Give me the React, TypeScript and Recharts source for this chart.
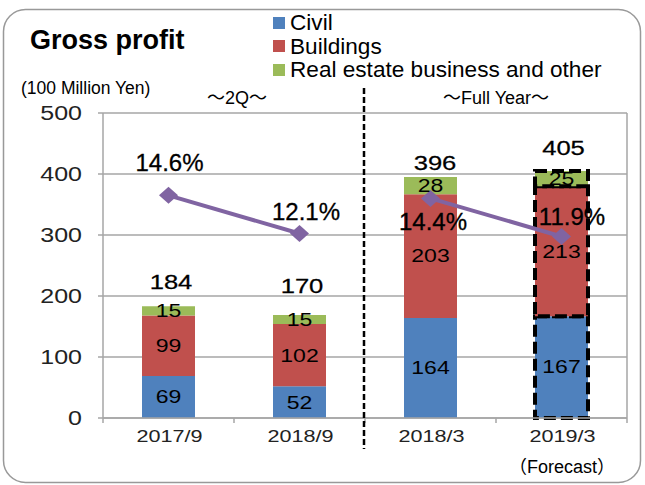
import React from 'react';
import { ComposedChart, Bar, Line, XAxis, YAxis, CartesianGrid, Legend, LabelList, Cell } from 'recharts';

const categories = ['2017/9', '2018/9', '2018/3', '2019/3'];
const civil = [69, 52, 164, 167];
const buildings = [99, 102, 203, 213];
const realEstate = [15, 15, 28, 25];
const totals = [184, 170, 396, 405];
const ratio2Q: (number | null)[] = [14.6, 12.1, null, null];
const ratioFY: (number | null)[] = [null, null, 14.4, 11.9];
const yTicks = [0, 100, 200, 300, 400, 500];
const seriesNames = ['Civil', 'Buildings', 'Real estate business and other'];

const data = categories.map((cat, i) => ({
  cat,
  civil: civil[i],
  buildings: buildings[i],
  realEstate: realEstate[i],
  total: totals[i],
  ratio2Q: ratio2Q[i],
  ratioFY: ratioFY[i],
}));

const FONT = '"Liberation Sans", Arial, "Noto Sans CJK JP", sans-serif';
const BLUE = '#4F81BD';
const RED = '#C0504D';
const GREEN = '#9BBB59';
const PURPLE = '#8064A2';
const GRID = '#A6A6A6';
const FORECAST_INDEX = 3;

// label nudges relative to library-computed anchor points [dx, dy]
const PCT_NUDGE = [[1, -33], [6.5, -22], [2.5, 23], [10.5, -20]];
const TOTAL_NUDGE = [[2.5, -17.5], [2.5, -21.5], [4.5, -7], [2, -15.5]];

const Wide = ({ x, y, text, size, sx = 1.27, anchor = 'middle', fill = '#000', heavy = 0 }: any) => (
  <text
    transform={`translate(${x},${y}) scale(${sx},1)`}
    textAnchor={anchor}
    fontSize={size}
    fontFamily={FONT}
    fill={fill}
    stroke={heavy ? fill : undefined}
    strokeWidth={heavy || undefined}
  >
    {text}
  </text>
);

const getBox = (p: any) => {
  const vb = p.viewBox || {};
  return {
    x: p.x ?? vb.x,
    y: p.y ?? vb.y,
    width: p.width ?? vb.width ?? 0,
    height: p.height ?? vb.height ?? 0,
  };
};

const SegLabel = (p: any) => {
  if (p.value == null) return null;
  const { x, y, width, height } = getBox(p);
  return <Wide x={x + width / 2} y={y + height / 2 + 6.4} size={18} sx={1.28} text={String(p.value)} />;
};

const TotalLabel = (p: any) => {
  if (p.value == null) return null;
  const { x, y, width } = getBox(p);
  const n = TOTAL_NUDGE[p.index] || [0, -15];
  return <Wide x={x + width / 2 + n[0]} y={y + n[1]} size={20} sx={1.28} heavy={0.25} text={String(p.value)} />;
};

const PctLabel = (p: any) => {
  if (p.value == null) return null;
  const { x, y } = getBox(p);
  if (x == null || y == null) return null;
  const n = PCT_NUDGE[p.index] || [0, -20];
  return (
    <text
      x={x + n[0]}
      y={y + n[1] + 8.6}
      textAnchor="middle"
      fontSize={24}
      fontFamily={FONT}
      fill="#000"
      stroke="#000"
      strokeWidth={0.3}
    >
      {`${p.value}%`}
    </text>
  );
};

const Diamond = (p: any) => {
  const { cx, cy, key } = p;
  if (cx == null || cy == null || p.value == null || (Array.isArray(p.value) && p.value[1] == null)) return <g key={key} />;
  return (
    <polygon
      key={key}
      points={`${cx},${cy - 8.5} ${cx + 9.5},${cy} ${cx},${cy + 8.5} ${cx - 9.5},${cy}`}
      fill={PURPLE}
    />
  );
};

const YTick = (p: any) => (
  <Wide x={p.x - 14} y={p.y + 7.2} size={20} sx={1.25} anchor="end" fill="#222" text={String(p.payload.value)} />
);

const XTick = (p: any) => {
  const { x, y, payload, index } = p;
  return (
    <g>
      <Wide x={x + 1} y={y + 17} size={17} sx={1.27} fill="#222" text={payload.value} />
      <line x1={x - 65.5} x2={x - 65.5} y1={y - 7} y2={y - 2} stroke={GRID} strokeWidth={1.5} />
      {index === categories.length - 1 && (
        <line x1={x + 65.5} x2={x + 65.5} y1={y - 7} y2={y - 2} stroke={GRID} strokeWidth={1.5} />
      )}
    </g>
  );
};

const LegendContent = (props: any) => {
  const items = (props.payload || [])
    .filter((e: any) => e.type !== 'none' && seriesNames.includes(e.value))
    .sort((a: any, b: any) => seriesNames.indexOf(a.value) - seriesNames.indexOf(b.value));
  return (
    <div style={{ fontFamily: FONT }}>
      {items.map((e: any) => (
        <div key={e.value} style={{ display: 'flex', alignItems: 'center', height: 23.5 }}>
          <span style={{ width: 12, height: 12, background: e.color, marginRight: 5, display: 'inline-block' }} />
          <span style={{ fontSize: 22.6, lineHeight: '23.5px', color: '#000', whiteSpace: 'nowrap' }}>{e.value}</span>
        </div>
      ))}
    </div>
  );
};

const forecastCell = (i: number) =>
  i === FORECAST_INDEX ? { stroke: '#000', strokeWidth: 4, strokeDasharray: '12 5' } : {};

export default function App() {
  return (
    <div style={{ position: 'relative', width: 645, height: 485, background: '#fff' }}>
      <style>{`body{margin:0;}`}</style>
      <ComposedChart width={645} height={485} data={data} margin={{ top: 113, right: 17, bottom: 0, left: 43 }}>
        <CartesianGrid yAxisId="amt" vertical={false} stroke={GRID} strokeWidth={1.5} />
        <XAxis
          dataKey="cat"
          height={67}
          interval={0}
          tickSize={5}
          tickLine={false}
          tick={<XTick />}
          axisLine={{ stroke: GRID, strokeWidth: 1.5 }}
        />
        <YAxis
          yAxisId="amt"
          width={60}
          domain={[0, 500]}
          ticks={yTicks}
          tickSize={5}
          tick={<YTick />}
          tickLine={{ stroke: GRID, strokeWidth: 1.5 }}
          axisLine={{ stroke: GRID, strokeWidth: 1.5 }}
        />
        <YAxis
          yAxisId="pct"
          orientation="right"
          width={1}
          domain={[0, 20]}
          tick={false}
          tickLine={false}
          axisLine={{ stroke: GRID, strokeWidth: 1.5 }}
        />
        <Bar yAxisId="amt" dataKey="civil" name={seriesNames[0]} stackId="s" fill={BLUE} barSize={53} isAnimationActive={false}>
          {data.map((_, i) => (
            <Cell key={i} fill={BLUE} {...forecastCell(i)} />
          ))}
          <LabelList dataKey="civil" content={<SegLabel />} />
        </Bar>
        <Bar yAxisId="amt" dataKey="buildings" name={seriesNames[1]} stackId="s" fill={RED} barSize={53} isAnimationActive={false}>
          {data.map((_, i) => (
            <Cell key={i} fill={RED} {...forecastCell(i)} />
          ))}
          <LabelList dataKey="buildings" content={<SegLabel />} />
        </Bar>
        <Bar
          yAxisId="amt"
          dataKey="realEstate"
          name={seriesNames[2]}
          stackId="s"
          fill={GREEN}
          barSize={53}
          isAnimationActive={false}
        >
          {data.map((_, i) => (
            <Cell key={i} fill={GREEN} {...forecastCell(i)} />
          ))}
          <LabelList dataKey="realEstate" content={<SegLabel />} />
          <LabelList dataKey="total" content={<TotalLabel />} />
        </Bar>
        <Line
          yAxisId="pct"
          dataKey="ratio2Q"
          stroke={PURPLE}
          strokeWidth={4}
          dot={<Diamond />}
          activeDot={false}
          legendType="none"
          isAnimationActive={false}
        >
          <LabelList dataKey="ratio2Q" content={<PctLabel />} />
        </Line>
        <Line
          yAxisId="pct"
          dataKey="ratioFY"
          stroke={PURPLE}
          strokeWidth={4}
          dot={<Diamond />}
          activeDot={false}
          legendType="none"
          isAnimationActive={false}
        >
          <LabelList dataKey="ratioFY" content={<PctLabel />} />
        </Line>
        <Legend
          layout="vertical"
          align="center"
          verticalAlign="middle"
          content={<LegendContent />}
          wrapperStyle={{ position: 'absolute', top: 11, left: 273, width: 'auto', height: 'auto' }}
        />
      </ComposedChart>
      <svg
        width={645}
        height={485}
        style={{ position: 'absolute', left: 0, top: 0, pointerEvents: 'none' }}
      >
        <rect x={3.5} y={9.5} width={637} height={473} rx={22} ry={22} fill="none" stroke="#999" strokeWidth={1.5} />
        <text x={30} y={49} fontSize={27} fontWeight="bold" fontFamily={FONT} fill="#000">
          Gross profit
        </text>
        <text x={21} y={94} fontSize={17.5} fontFamily={FONT} fill="#000">
          (100 Million Yen)
        </text>
        <text x={237} y={104} textAnchor="middle" fontSize={18} fontFamily={FONT} fill="#000">
          ～2Q～
        </text>
        <text x={496} y={104} textAnchor="middle" fontSize={18} fontFamily={FONT} fill="#000">
          ～Full Year～
        </text>
        <line x1={364} x2={364} y1={88} y2={449} stroke="#000" strokeWidth={2.5} strokeDasharray="6 3" />
        <text x={562} y={473} textAnchor="middle" fontSize={18} fontFamily={FONT} fill="#000">
          （Forecast）
        </text>
      </svg>
    </div>
  );
}
